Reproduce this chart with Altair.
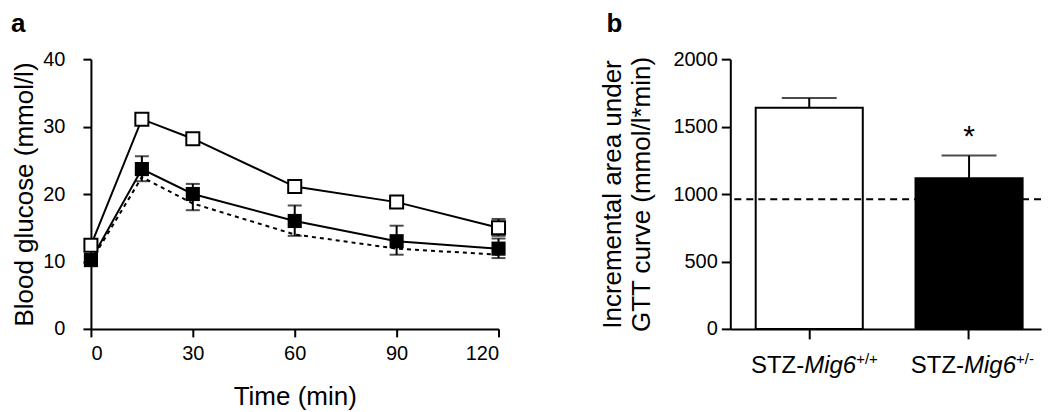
import altair as alt
import pandas as pd

# ---------------- data ----------------
time = [0, 15, 30, 60, 90, 120]
wt_mean = [12.4, 31.1, 28.2, 21.1, 18.8, 15.0]
wt_lower = [12.0, 30.6, 27.6, 20.6, 18.2, 13.8]
wt_upper = [12.8, 31.6, 28.8, 21.6, 19.4, 16.3]
het_mean = [10.2, 23.7, 20.0, 16.0, 13.0, 11.9]
het_lower = [9.6, 21.9, 17.6, 13.8, 11.0, 10.5]
het_upper = [10.8, 25.6, 21.5, 18.3, 15.3, 13.4]
ref_mean = [10.0, 22.5, 18.6, 14.0, 11.9, 11.0]

groups = ["STZ-Mig6+/+", "STZ-Mig6+/-"]
label_prefix = ["STZ-", "STZ-"]
label_gene = ["Mig6", "Mig6"]
label_sup = ["+/+", "+/-"]
iauc = [1640, 1117]
iauc_err = [72, 168]
iauc_ref = [962]
signif = ["", "*"]

FONT = "Liberation Sans"

# ---------------- panel a ----------------
dfa = pd.DataFrame({
    "time": time,
    "wt": wt_mean, "wt_lo": wt_lower, "wt_hi": wt_upper,
    "het": het_mean, "het_lo": het_lower, "het_hi": het_upper,
    "ref": ref_mean,
})

YT_A = "Blood glucose (mmol/l)"
xa = alt.X("time:Q", scale=alt.Scale(domain=[0, 120], nice=False),
           axis=alt.Axis(values=[0, 30, 60, 90, 120], title="Time (min)",
                         labelPadding=7, titlePadding=20))
yscale_a = alt.Scale(domain=[0, 40], nice=False)
yaxis_a = alt.Axis(values=[0, 10, 20, 30, 40], labelPadding=18, titlePadding=5)


def ya(field):
    return alt.Y(f"{field}:Q", scale=yscale_a, axis=yaxis_a, title=YT_A)


base_a = alt.Chart(dfa)
ref_line = base_a.mark_line(color="black", strokeWidth=2, strokeDash=[4, 4]).encode(x=xa, y=ya("ref"))
het_line = base_a.mark_line(color="black", strokeWidth=2).encode(x=xa, y=ya("het"))
wt_line = base_a.mark_line(color="black", strokeWidth=2).encode(x=xa, y=ya("wt"))
het_err = base_a.mark_rule(color="black", strokeWidth=2).encode(x=xa, y=ya("het_lo"), y2="het_hi:Q")
het_cap_lo = base_a.mark_tick(color="black", thickness=2, size=14, orient="horizontal").encode(x=xa, y=ya("het_lo"))
het_cap_hi = base_a.mark_tick(color="black", thickness=2, size=14, orient="horizontal").encode(x=xa, y=ya("het_hi"))
wt_err = base_a.mark_rule(color="black", strokeWidth=2).encode(x=xa, y=ya("wt_lo"), y2="wt_hi:Q")
wt_cap_lo = base_a.mark_tick(color="black", thickness=2, size=14, orient="horizontal").encode(x=xa, y=ya("wt_lo"))
wt_cap_hi = base_a.mark_tick(color="black", thickness=2, size=14, orient="horizontal").encode(x=xa, y=ya("wt_hi"))
het_pts = base_a.mark_point(shape="square", filled=True, color="black", size=200, opacity=1).encode(x=xa, y=ya("het"))
wt_pts = base_a.mark_point(shape="square", filled=True, fill="white", stroke="black",
                           strokeWidth=2, size=170, opacity=1).encode(x=xa, y=ya("wt"))

panel_a = alt.layer(
    ref_line, het_line, wt_line,
    het_err, het_cap_lo, het_cap_hi,
    wt_err, wt_cap_lo, wt_cap_hi,
    het_pts, wt_pts,
).properties(
    width=408, height=270,
    title=alt.TitleParams("a", anchor="start", frame="group", dx=-80, fontSize=26,
                          fontWeight="bold", font=FONT, offset=12, color="black"),
)

# ---------------- panel b ----------------
dfb = pd.DataFrame({
    "group": groups,
    "iauc": iauc,
    "top": [m + e for m, e in zip(iauc, iauc_err)],
    "prefix": label_prefix,
    "gene": label_gene,
    "sup": label_sup,
    "sig": signif,
})

xb = alt.X("group:N", sort=groups,
           scale=alt.Scale(paddingInner=0.33, paddingOuter=0.137, align=0.58),
           axis=alt.Axis(labels=False, title=None, tickSize=10))
yscale_b = alt.Scale(domain=[0, 2000], nice=False)
YT_B = ["Incremental area under", "GTT curve (mmol/l*min)"]
yaxis_b = alt.Axis(values=[0, 500, 1000, 1500, 2000], format="d", labelPadding=4, titlePadding=18,
                   titleLineHeight=29, tickSize=9)


def yb(field):
    return alt.Y(f"{field}:Q", scale=yscale_b, axis=yaxis_b, title=YT_B)


base_b = alt.Chart(dfb)
bars = base_b.mark_bar(stroke="black", strokeWidth=2).encode(
    x=xb, y=yb("iauc"),
    fill=alt.Fill("group:N", scale=alt.Scale(domain=groups, range=["white", "black"]), legend=None),
)
bar_err = base_b.mark_rule(color="black", strokeWidth=2).encode(x=xb, y=yb("iauc"), y2="top:Q")
bar_cap = base_b.mark_tick(color="black", thickness=2, size=55, orient="horizontal").encode(x=xb, y=yb("top"))
ref_rule = alt.Chart(pd.DataFrame({"ref": iauc_ref})).mark_rule(
    color="black", strokeWidth=2, strokeDash=[7, 5]).encode(y=yb("ref"))
star = base_b.mark_text(fontSize=30, font=FONT, color="black", baseline="alphabetic", dy=-10).encode(
    x=xb, y=yb("top"), text="sig:N")

LAB_Y = 314
lab_prefix = base_b.mark_text(fontSize=24, font=FONT, color="black", align="right",
                              baseline="alphabetic", dx=-5).encode(
    x=xb, y=alt.value(LAB_Y), text="prefix:N")
lab_gene = base_b.mark_text(fontSize=24, font=FONT, fontStyle="italic", color="black", align="left",
                            baseline="alphabetic", dx=-5).encode(
    x=xb, y=alt.value(LAB_Y), text="gene:N")
lab_sup = base_b.mark_text(fontSize=15, font=FONT, color="black", align="left",
                           baseline="alphabetic", dx=47).encode(
    x=xb, y=alt.value(LAB_Y - 9), text="sup:N")

panel_b = alt.layer(
    bars, ref_rule, bar_err, bar_cap, star, lab_prefix, lab_gene, lab_sup,
).properties(
    width=311, height=270,
    title=alt.TitleParams("b", anchor="start", frame="group", dx=-124, fontSize=26,
                          fontWeight="bold", font=FONT, offset=12, color="black"),
)

chart = alt.hconcat(panel_a, panel_b, spacing=232, bounds="flush").properties(
    padding={"left": 3, "top": 3, "right": 0, "bottom": 0}
).configure_view(stroke=None).configure_axis(
    grid=False,
    domainColor="black", domainWidth=2,
    tickColor="black", tickWidth=2, tickSize=8,
    labelColor="black", labelFont=FONT, labelFontSize=20,
    titleColor="black", titleFont=FONT, titleFontSize=26, titleFontWeight="normal",
).configure_text(font=FONT)

chart.save("out.html", embed_options={"renderer": "svg", "actions": False})
